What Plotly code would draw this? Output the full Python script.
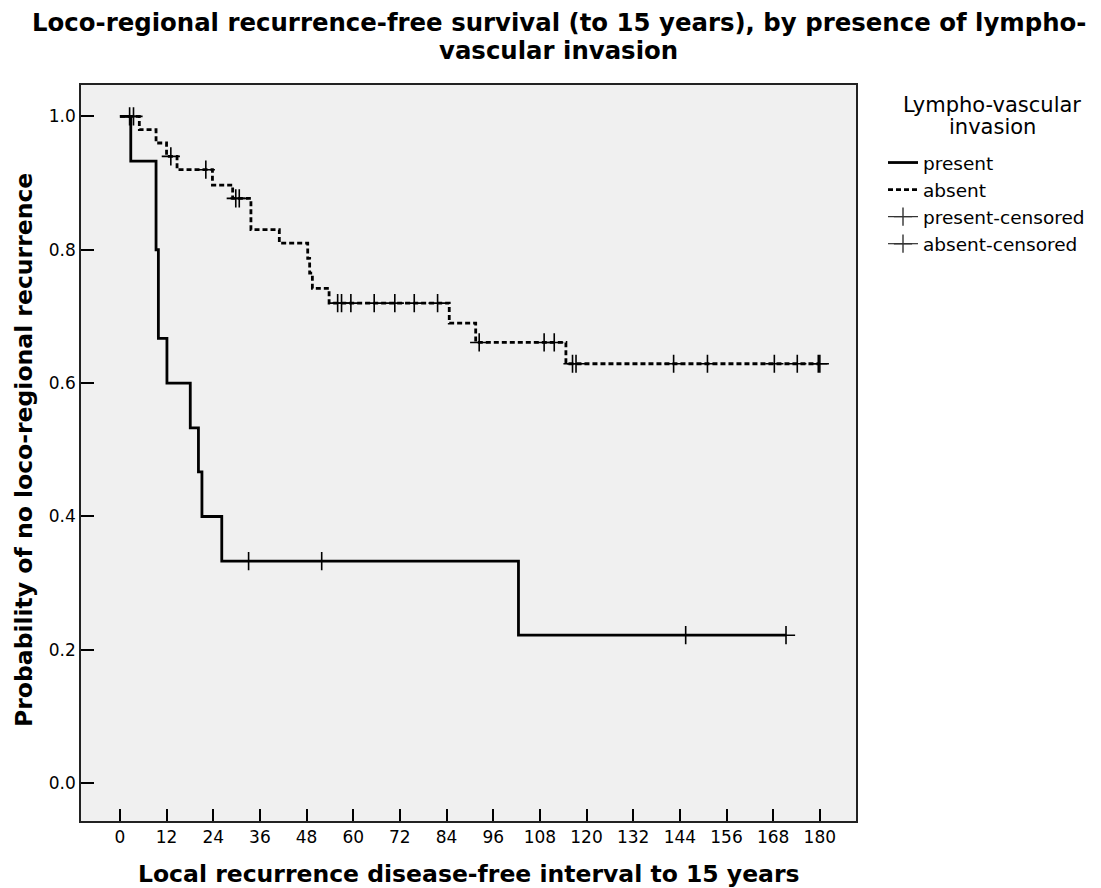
import numpy as np
import plotly.graph_objects as go

# Kaplan-Meier steps (months, survival)
present_t = [0, 2.8, 9.3, 9.9, 12.1, 18.1, 20.2, 21.1, 26.2, 102.5]
present_s = [1.0, 0.933, 0.8, 0.667, 0.6, 0.533, 0.467, 0.4, 0.333, 0.222]
present_end = 171.3
present_cens = [33.1, 51.9, 145.5, 171.3]

absent_t = [0, 5.0, 9.3, 12.0, 14.7, 23.8, 29.0, 33.7, 41.0, 48.3, 48.8, 49.5, 53.8, 84.7, 91.5, 114.7]
absent_s = [1.0, 0.98, 0.96, 0.94, 0.92, 0.897, 0.877, 0.83, 0.81, 0.787, 0.765, 0.742, 0.72, 0.69, 0.661, 0.629]
absent_end = 180
absent_cens = [2.5, 3.5, 13.1, 22.1, 29.8, 30.7, 56.0, 57.0, 59.4, 65.4, 70.7, 75.7, 81.7,
               92.4, 109.1, 111.7, 116.4, 117.3, 142.4, 151.1, 168.3, 174.2, 179.6, 180]

x_ticks = list(range(0, 181, 12))
y_ticks = [0.0, 0.2, 0.4, 0.6, 0.8, 1.0]

FONT = "DejaVu Sans, Verdana, sans-serif"

# page geometry (pixels)
W, H = 1101, 888
L, R, T, B = 73, 253, 77, 75
PW, PH = W - L - R, H - T - B


def px_x(x):
    return (x - L) / PW


def px_y(y):
    return (H - B - y) / PH


def surv_at(times, surv, t):
    """Value of the step curve at time t (right-continuous)."""
    idx = np.searchsorted(times, t, side="right") - 1
    return surv[max(idx, 0)]


fig = go.Figure()

# step curves
fig.add_trace(go.Scatter(
    x=present_t + [present_end], y=present_s + [present_s[-1]],
    mode="lines", line=dict(shape="hv", color="black", width=2.8),
    name="present",
))
fig.add_trace(go.Scatter(
    x=absent_t + [absent_end], y=absent_s + [absent_s[-1]],
    mode="lines", line=dict(shape="hv", color="black", width=2.8, dash="5px,3px"),
    name="absent",
))

# censored marks
cens_marker = dict(symbol="cross-thin", size=13, color="black", line=dict(width=1.6, color="black"))
fig.add_trace(go.Scatter(
    x=present_cens, y=[surv_at(present_t, present_s, t) for t in present_cens],
    mode="markers", marker=cens_marker, showlegend=False, hoverinfo="skip",
))
fig.add_trace(go.Scatter(
    x=absent_cens, y=[surv_at(absent_t, absent_s, t) for t in absent_cens],
    mode="markers", marker=cens_marker, showlegend=False, hoverinfo="skip",
))

# legend-only entries for censored marks
for label in ["present-censored", "absent-censored"]:
    fig.add_trace(go.Scatter(
        x=[None], y=[None], mode="lines+markers", name=label,
        line=dict(color="#333333", width=1.2),
        marker=dict(symbol="cross-thin", size=13, color="#333333", line=dict(width=1.4, color="#333333")),
    ))

bold = dict(family=FONT, size=24.4, color="black", weight="bold")
annotations = [
    dict(text="Loco-regional recurrence-free survival (to 15 years), by presence of lympho-",
         x=px_x(550.5), y=px_y(15), font=bold),
    dict(text="vascular invasion", x=px_x(550.5), y=px_y(42), font=bold),
    dict(text="Local recurrence disease-free interval to 15 years",
         x=px_x(460.7), y=px_y(866), font=dict(bold, size=23.5)),
    dict(text="Probability of no loco-regional recurrence", textangle=-90,
         x=px_x(16), y=px_y(442), font=dict(bold, size=23.5)),
    dict(text="Lympho-vascular", x=px_x(984), y=px_y(97),
         font=dict(family=FONT, size=21, color="black")),
    dict(text="invasion", x=px_x(984), y=px_y(119),
         font=dict(family=FONT, size=21, color="black")),
]
for a in annotations:
    a.update(xref="paper", yref="paper", xanchor="center", yanchor="middle", showarrow=False)

fig.update_layout(
    width=W,
    height=H,
    margin=dict(l=L, r=R, t=T, b=B),
    paper_bgcolor="white",
    plot_bgcolor="#F0F0F0",
    annotations=annotations,
    legend=dict(
        x=px_x(875), xanchor="left", y=px_y(136), yanchor="top",
        font=dict(family=FONT, size=18.5, color="black"),
        itemwidth=30, tracegroupgap=0, bgcolor="rgba(0,0,0,0)",
    ),
    showlegend=True,
)

fig.update_xaxes(
    range=[-10, 189.3], tickvals=x_ticks, ticks="inside", ticklen=12, tickwidth=1.5,
    tickcolor="black", showgrid=False, zeroline=False,
    showline=True, linecolor="#222222", linewidth=1.5, mirror=True,
    tickfont=dict(family=FONT, size=17, color="black"),
)
fig.update_yaxes(
    range=[-0.0566, 1.047], tickvals=y_ticks, tickformat=".1f", ticks="inside", ticklen=13,
    tickwidth=1.5, tickcolor="black", showgrid=False, zeroline=False,
    showline=True, linecolor="#222222", linewidth=1.5, mirror=True,
    tickfont=dict(family=FONT, size=17, color="black"),
)

fig.write_html("out.html")
